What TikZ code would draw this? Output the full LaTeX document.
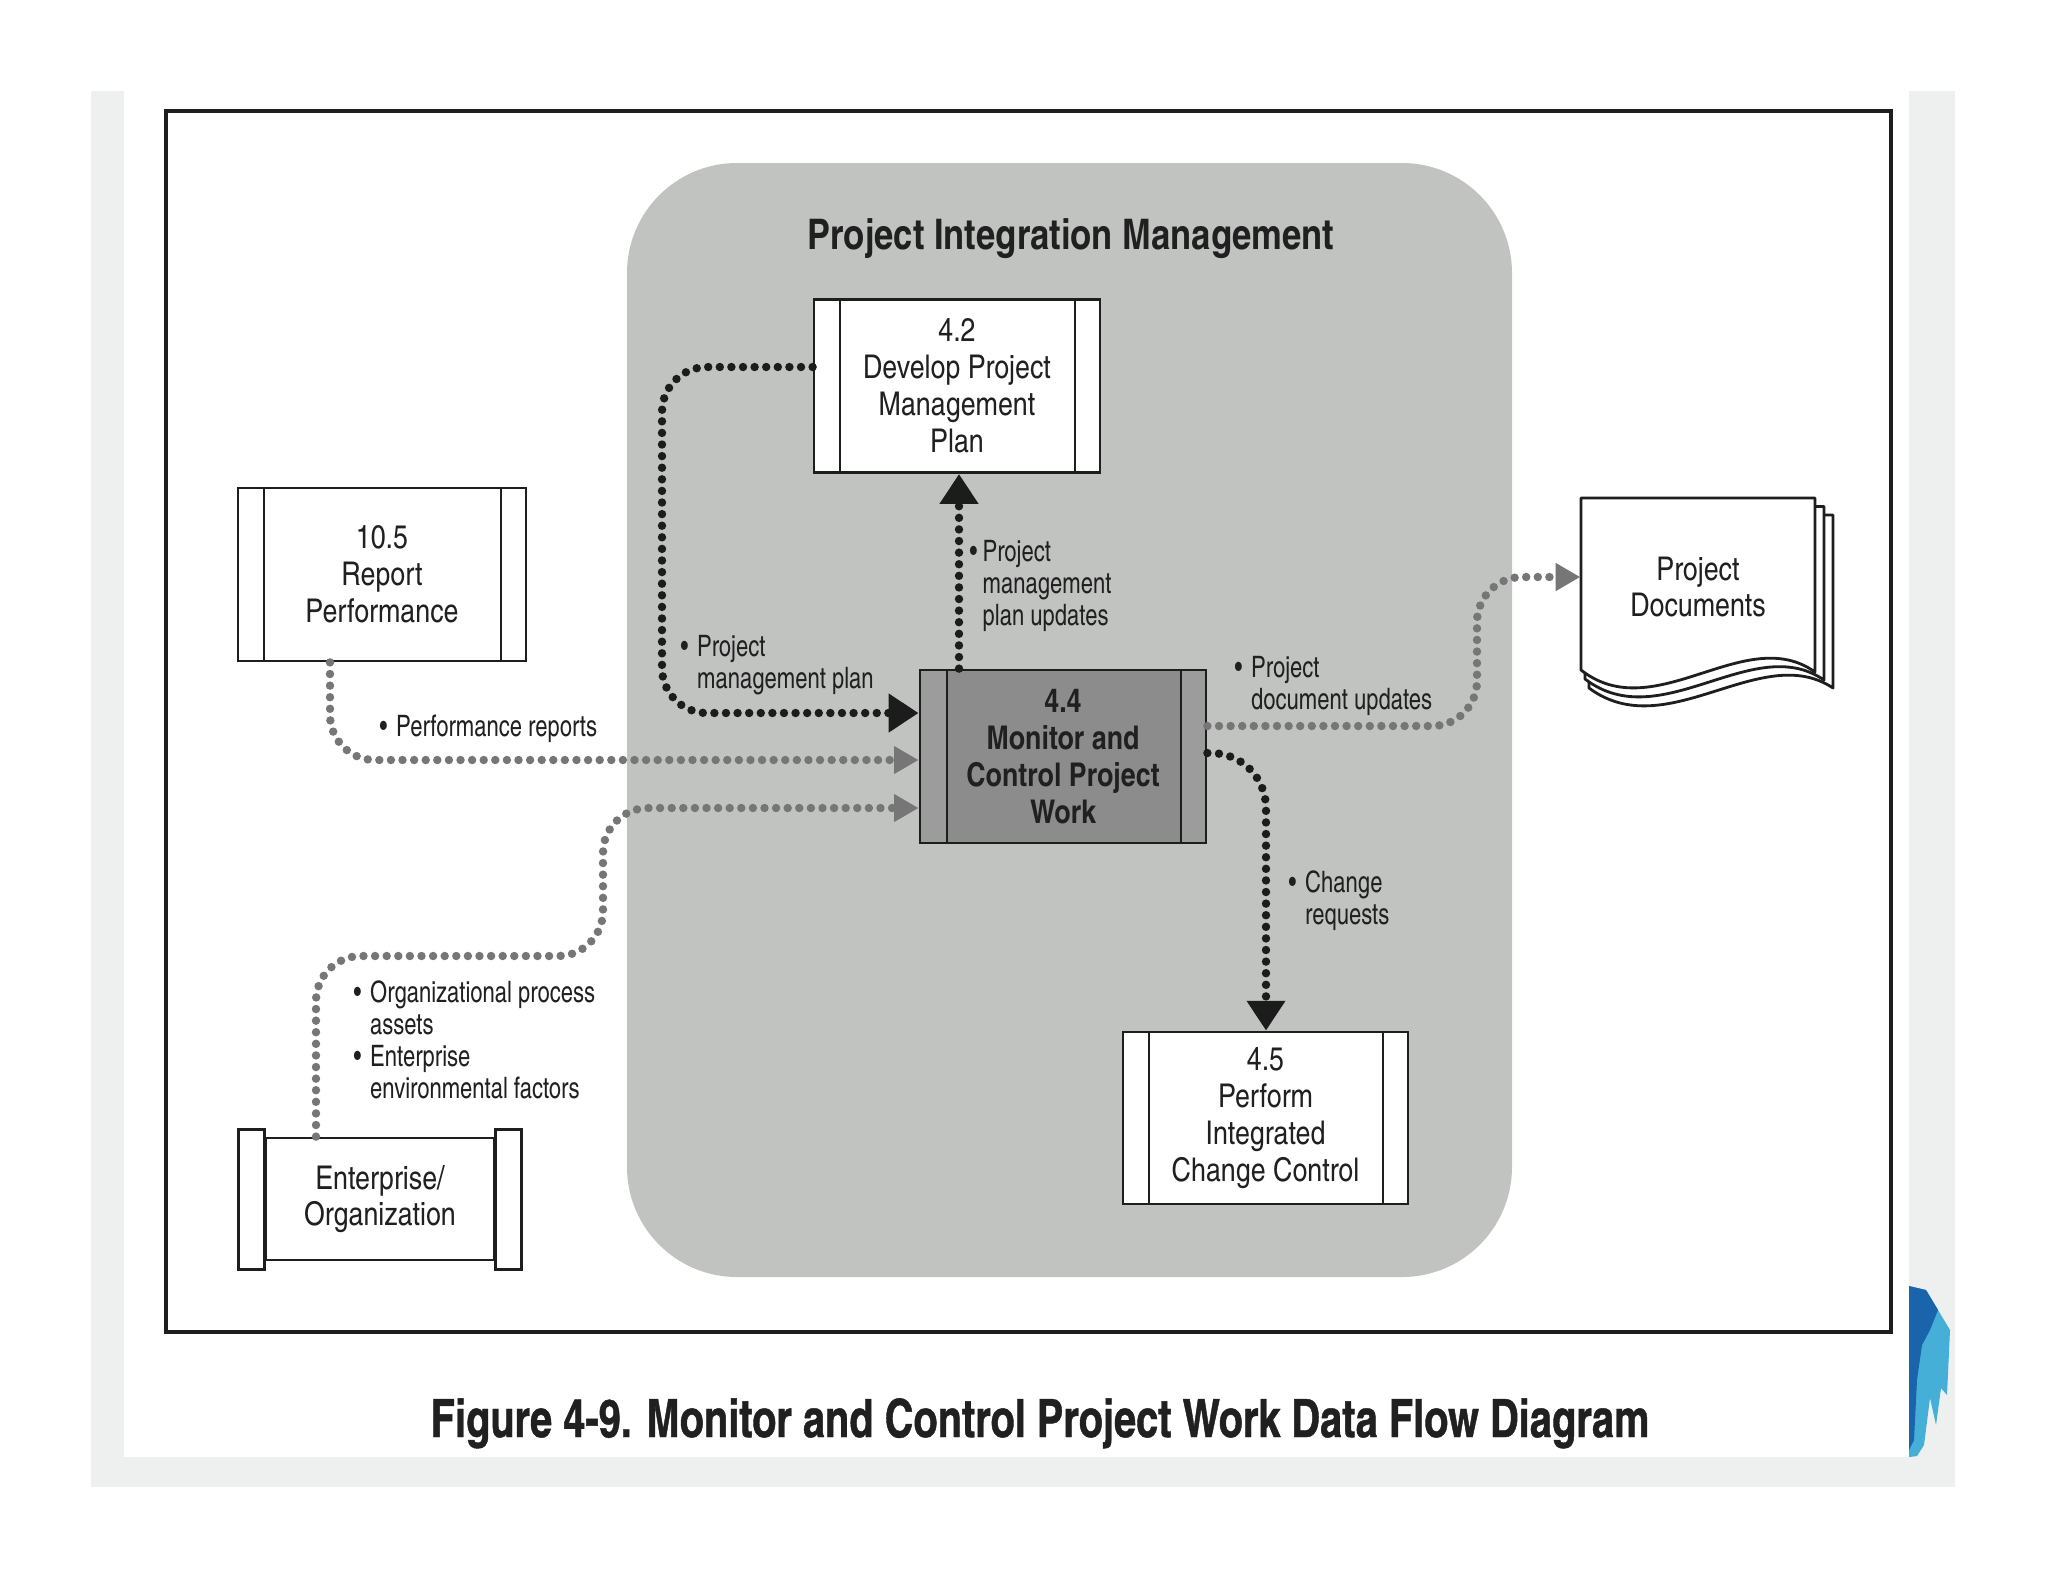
\documentclass[tikz,border=0pt]{standalone}
\usepackage{fontspec}
\setmainfont{texgyreheroscn}[Extension=.otf, UprightFont=*-regular, BoldFont=*-bold, ItalicFont=*-italic, BoldItalicFont=*-bolditalic]
\newfontfamily\lblfam{texgyreheroscn}[Extension=.otf, UprightFont=*-regular, BoldFont=*-bold, FakeStretch=0.91]
\newfontfamily\capfam{texgyreheroscn}[Extension=.otf, UprightFont=*-bold, BoldFont=*-bold, FakeStretch=0.92, FakeBold=0.8]
\usetikzlibrary{arrows.meta}
\definecolor{pimbg}{RGB}{193,195,193}
\definecolor{scan}{RGB}{238,240,240}
\definecolor{boxline}{RGB}{30,30,30}
\definecolor{txt}{RGB}{32,32,32}
\definecolor{boxmid}{RGB}{140,140,140}
\definecolor{boxside}{RGB}{156,156,156}
\definecolor{arrk}{RGB}{28,28,28}
\definecolor{arrg}{RGB}{118,118,118}
\definecolor{blobdark}{RGB}{25,100,170}
\definecolor{bloblight}{RGB}{70,175,215}
\newcommand\boxfont{\fontsize{9.3pt}{10.5pt}\selectfont}
\newcommand\boldboxfont{\fontsize{9.3pt}{10.5pt}\selectfont\bfseries}
\newcommand\lblfont{\lblfam\fontsize{8.4pt}{9.1pt}\selectfont}
\newcommand\titlefont{\fontsize{12pt}{14pt}\selectfont\bfseries}
\newcommand\capfont{\capfam\fontsize{15pt}{17pt}\selectfont}
\newcommand\lbul{\textbullet\hspace{2.5pt}}
\newcommand\lind{\phantom{\textbullet\hspace{2.5pt}}}
\begin{document}
\begin{tikzpicture}[x=0.1mm,y=-0.1mm,
  proc/.style={draw=boxline, line width=0.8pt, fill=white, minimum width=2.86cm,
    minimum height=1.73cm, inner sep=0pt, align=center, text=txt, font=\boxfont,
    path picture={
      \draw[boxline, line width=0.8pt]
        ([xshift=2.6mm]path picture bounding box.north west) -- ([xshift=2.6mm]path picture bounding box.south west)
        ([xshift=-2.5mm]path picture bounding box.north east) -- ([xshift=-2.5mm]path picture bounding box.south east);}},
  darkproc/.style={draw=boxline, line width=0.8pt, fill=boxmid, minimum width=2.86cm,
    minimum height=1.73cm, inner sep=0pt, align=center, text=txt, font=\boldboxfont,
    path picture={
      \fill[boxside] (path picture bounding box.north west) rectangle ([xshift=2.7mm]path picture bounding box.south west);
      \fill[boxside] (path picture bounding box.north east) rectangle ([xshift=-2.5mm]path picture bounding box.south east);
      \draw[boxline, line width=0.8pt]
        ([xshift=2.7mm]path picture bounding box.north west) -- ([xshift=2.7mm]path picture bounding box.south west)
        ([xshift=-2.5mm]path picture bounding box.north east) -- ([xshift=-2.5mm]path picture bounding box.south east);}},
  lbl/.style={anchor=west, align=left, inner sep=0pt, text=txt, font=\lblfont},
  dotk/.style={draw=arrk, line width=2.4pt, line cap=round, dash pattern=on 0pt off 3.3pt,
    -{Triangle[length=8.5pt,width=10.5pt]}, rounded corners=4.5mm},
  dotg/.style={draw=arrg, line width=2.4pt, line cap=round, dash pattern=on 0pt off 3.3pt,
    -{Triangle[length=7pt,width=7.5pt]}, rounded corners=4.5mm},
  pagest/.style={fill=white, draw=boxline, line width=0.8pt, line join=round}
]
\useasboundingbox (0,0) rectangle (2048,1582);
% scanned page background
\fill[white] (0,0) rectangle (2048,1582);
\fill[scan] (91,91) rectangle (1955,1487);
\fill[white] (124,91) rectangle (1909,1457);
\fill[bloblight] (1909,1286) -- (1926,1290) -- (1938,1310) -- (1950,1330) -- (1947,1395)
  -- (1941,1388) -- (1936,1425) -- (1930,1398) -- (1924,1445) -- (1917,1456) -- (1909,1457) -- cycle;
\fill[blobdark] (1909,1286) -- (1926,1290) -- (1938,1310) -- (1930,1330) -- (1922,1345)
  -- (1917,1380) -- (1914,1440) -- (1909,1450) -- cycle;
% frame
\draw[boxline, line width=0.9pt] (166,111) rectangle (1891,1332);
% integration management region
\fill[pimbg, rounded corners=11mm] (627,163) rectangle (1512,1277);
\node[font=\titlefont, text=txt, inner sep=0pt] (title) at (1071,239) {Project Integration Management};

% processes
\node[proc] (b42) at (957,386) {4.2\\Develop Project\\Management\\Plan};
\node[proc, minimum width=2.88cm] (b105) at (382,574.5) {10.5\\Report\\Performance};
\node[darkproc] (b44) at (1063,756.5) {4.4\\Monitor and\\Control Project\\Work};
\node[proc, minimum width=2.85cm, minimum height=1.72cm] (b45) at (1265.5,1118) {4.5\\Perform\\Integrated\\Change Control};

% enterprise / organization (scroll shape)
\node[draw=boxline, line width=0.8pt, fill=white, minimum width=2.28cm, minimum height=1.22cm,
  inner sep=0pt, align=center, text=txt, font=\boxfont] (ent) at (380,1199) {Enterprise/\\Organization};
\filldraw[fill=white, draw=boxline, line width=0.8pt]
  ([xshift=-2.6mm,yshift=0.7mm]ent.north west) rectangle ([yshift=-0.8mm]ent.south west);
\filldraw[fill=white, draw=boxline, line width=0.8pt]
  ([yshift=0.7mm]ent.north east) rectangle ([xshift=2.6mm,yshift=-0.8mm]ent.south east);

% project documents (stacked pages)
\foreach \k in {2,1,0}{
  \filldraw[pagest] ({1581+4*\k},{498+8.5*\k}) -- ({1815+9*\k},{498+8.5*\k}) -- ({1815+9*\k},{672+8*\k})
    .. controls ({1745+8*\k},{622+9*\k}) and ({1655+6*\k},{728+9*\k}) .. ({1581+4*\k},{670+9*\k}) -- cycle;
}
\node[minimum width=2.34cm, minimum height=1.72cm, inner sep=0pt, align=center, text=txt,
  font=\boxfont] (docs) at (1698,587) {Project\\Documents};

% connectors
\draw[dotk] (b42.west |- 0,367) -- (662,367) -- (662,713) -- (b44.west |- 0,713);
\draw[dotk] (959,0 |- b44.north) -- (959,0 |- b42.south);
\draw[dotg] (330,0 |- b105.south) -- (330,760) -- (b44.west |- 0,760);
\draw[dotg] (316,0 |- ent.north) -- (316,956) -- (603,956) -- (603,808) -- (b44.west |- 0,808);
\draw[dotg] (b44.east |- 0,726) -- (1477,726) -- (1477,577) -- (docs.west |- 0,577);
\draw[dotk, rounded corners=5.5mm] (b44.east |- 0,753) -- (1266,753) -- (1266,0 |- b45.north);

% flow labels
\node[lbl] (l1) at (680,665) {\lbul Project\\\lind management plan};
\node[lbl] (l2) at (969,586) {\textbullet\hspace{1.5pt}Project\\\phantom{\textbullet\hspace{1.5pt}}management\\\phantom{\textbullet\hspace{1.5pt}}plan updates};
\node[lbl] (l3) at (379,729) {\lbul Performance reports};
\node[lbl] (l4) at (353,1040) {\lbul Organizational process\\\lind assets\\\lbul Enterprise\\\lind environmental factors};
\node[lbl] (l5) at (1234,686) {\lbul Project\\\lind document updates};
\node[lbl] (l6) at (1288,901) {\lbul Change\\\lind requests};

% caption
\node[font=\capfont, text=txt, anchor=base, inner sep=0pt] (cap) at (1040,1437)
  {Figure 4-9. Monitor and Control Project Work Data Flow Diagram};
\end{tikzpicture}
\end{document}
